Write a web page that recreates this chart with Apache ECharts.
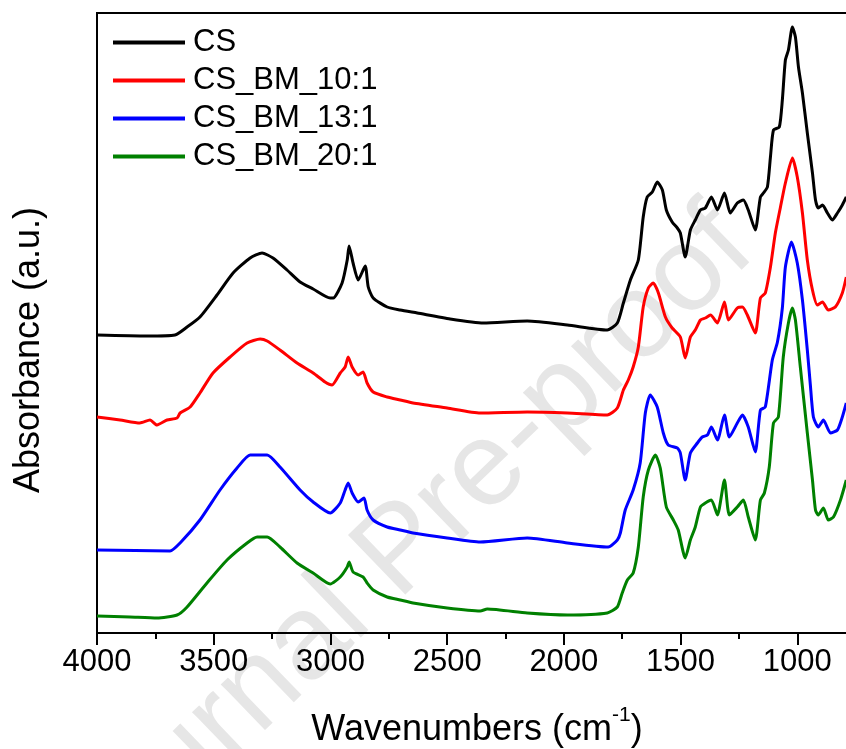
<!DOCTYPE html>
<html><head><meta charset="utf-8">
<script src="https://cdn.jsdelivr.net/npm/echarts@6/dist/echarts.min.js"></script>
<style>html,body{margin:0;padding:0;background:#fff}#c{width:846px;height:749px}</style>
</head><body><div id="c"></div>
<script>
// Series names
const seriesNames = ['CS', 'CS_BM_10:1', 'CS_BM_13:1', 'CS_BM_20:1'];
const seriesColors = ['#000000', '#ff0000', '#0000ff', '#008000'];
// x tick values (cm-1)
const xTicks = [4000, 3500, 3000, 2500, 2000, 1500, 1000];

// CS
const wnCS = [4000,3786,3666,3614,3559,3486,3417,3344,3293,3246,3186,3130,3074,3001,2988,2950,2928,2920,2903,2881,2851,2838,2817,2757,2701,2628,2487,2345,2157,1985,1814,1771,1745,1715,1681,1660,1643,1621,1600,1578,1561,1536,1514,1501,1480,1458,1437,1415,1394,1368,1342,1312,1287,1257,1231,1210,1180,1158,1145,1128,1115,1102,1077,1064,1051,1038,1021,1008,995,978,957,935,922,910,892,871,850,828,807,790];
const absCS = [2.98,2.97,2.98,3.06,3.16,3.38,3.60,3.75,3.80,3.75,3.63,3.51,3.44,3.35,3.35,3.50,3.73,3.87,3.70,3.53,3.67,3.46,3.35,3.26,3.23,3.20,3.14,3.10,3.12,3.08,3.03,3.10,3.30,3.53,3.73,4.16,4.36,4.41,4.51,4.43,4.23,4.11,4.05,4.00,3.76,4.03,4.13,4.23,4.25,4.36,4.23,4.40,4.20,4.30,4.33,4.23,4.03,4.36,4.40,4.46,4.76,5.03,5.06,5.33,5.73,5.83,6.06,5.96,5.66,5.40,5.00,4.60,4.33,4.25,4.28,4.20,4.13,4.20,4.28,4.36];

// CS_BM_10:1
const wn10 = [4000,3901,3816,3773,3743,3700,3657,3644,3601,3559,3503,3430,3357,3301,3271,3216,3143,3074,3023,2993,2958,2937,2924,2907,2881,2860,2843,2817,2757,2701,2646,2500,2358,2157,1985,1814,1771,1745,1724,1703,1681,1660,1638,1617,1595,1565,1536,1501,1480,1458,1437,1415,1394,1372,1342,1312,1295,1257,1235,1214,1180,1158,1137,1115,1094,1072,1051,1021,1000,978,957,935,914,892,867,837,807,790];
const abs10 = [2.16,2.13,2.10,2.13,2.08,2.13,2.15,2.20,2.26,2.40,2.60,2.76,2.90,2.94,2.92,2.83,2.70,2.60,2.51,2.48,2.60,2.66,2.76,2.66,2.58,2.61,2.50,2.41,2.36,2.33,2.30,2.25,2.20,2.21,2.20,2.18,2.25,2.43,2.53,2.66,2.86,3.26,3.45,3.50,3.40,3.16,3.05,2.96,2.75,2.96,3.03,3.13,3.15,3.18,3.10,3.31,3.13,3.25,3.26,3.18,3.00,3.35,3.40,3.66,4.00,4.26,4.50,4.75,4.56,4.20,3.73,3.43,3.28,3.31,3.23,3.26,3.40,3.56];

// CS_BM_13:1
const wn13 = [4000,3687,3644,3559,3473,3400,3344,3271,3216,3130,3074,3001,2958,2937,2924,2907,2881,2856,2843,2817,2757,2701,2646,2500,2358,2157,1985,1810,1771,1758,1737,1703,1673,1651,1630,1600,1574,1553,1514,1501,1480,1458,1428,1407,1385,1368,1342,1312,1291,1257,1235,1210,1180,1158,1137,1107,1085,1064,1051,1025,1000,978,957,944,931,910,888,858,828,807,790];
const abs13 = [0.83,0.82,0.90,1.13,1.43,1.65,1.78,1.78,1.66,1.43,1.31,1.20,1.30,1.43,1.50,1.40,1.31,1.35,1.23,1.13,1.06,1.03,1.00,0.95,0.91,0.95,0.90,0.86,0.93,1.00,1.23,1.43,1.70,2.20,2.38,2.26,2.00,1.88,1.85,1.80,1.53,1.80,1.90,1.96,1.98,2.06,1.93,2.18,1.96,2.10,2.18,2.06,1.81,2.23,2.26,2.73,2.91,3.25,3.66,3.91,3.70,3.33,2.83,2.48,2.16,2.06,2.13,2.00,2.03,2.16,2.30];

// CS_BM_20:1
const wn20 = [4000,3859,3743,3657,3614,3529,3443,3357,3314,3271,3216,3143,3074,3001,2958,2928,2920,2903,2860,2843,2817,2757,2701,2646,2500,2358,2328,2157,1985,1814,1771,1750,1728,1703,1681,1660,1638,1608,1587,1561,1531,1510,1480,1458,1437,1415,1394,1368,1342,1312,1291,1257,1231,1210,1180,1158,1141,1120,1102,1081,1060,1038,1021,1008,987,957,935,922,910,888,867,845,815,790];
const abs20 = [0.17,0.16,0.15,0.18,0.26,0.50,0.73,0.90,0.96,0.96,0.86,0.70,0.60,0.49,0.56,0.66,0.71,0.61,0.56,0.50,0.43,0.36,0.33,0.30,0.25,0.22,0.24,0.20,0.18,0.20,0.26,0.40,0.53,0.60,0.86,1.36,1.63,1.78,1.65,1.26,1.13,1.03,0.75,0.93,1.06,1.26,1.30,1.33,1.18,1.53,1.18,1.26,1.33,1.16,0.93,1.33,1.40,1.66,2.10,2.16,2.76,3.10,3.25,3.13,2.66,2.00,1.53,1.23,1.18,1.25,1.13,1.16,1.33,1.53];

const FONT = '"Liberation Sans", Arial, sans-serif';
const wnSets = [wnCS, wn10, wn13, wn20];
const absSets = [absCS, abs10, abs13, abs20];

const chart = echarts.init(document.getElementById('c'), null, {renderer: 'canvas'});
chart.setOption({
  animation: false,
  backgroundColor: '#fff',
  grid: {left: 97, top: 13, bottom: 116, right: -68, show: true, borderColor: '#000', borderWidth: 2,
         containLabel: false, outerBoundsMode: 'none'},
  legend: {
    orient: 'vertical', left: 113, top: 27, padding: 0,
    icon: 'rect', itemWidth: 72, itemHeight: 4, itemGap: 7,
    textStyle: {fontSize: 31, color: '#000', lineHeight: 31, fontFamily: FONT, padding: [0, 0, 0, 3]},
    data: seriesNames
  },
  xAxis: {
    type: 'value', inverse: true, min: 500, max: xTicks[0], interval: 500,
    axisLine: {show: true, onZero: false, lineStyle: {color: '#000', width: 2}},
    axisTick: {show: true, inside: false, length: 12, lineStyle: {color: '#000', width: 2}},
    minorTick: {show: true, splitNumber: 2, length: 6, lineStyle: {color: '#000', width: 2}},
    axisLabel: {fontSize: 31, color: '#000', margin: 14, fontFamily: FONT, hideOverlap: false,
      formatter: v => xTicks.indexOf(v) >= 0 ? String(v) : ''},
    splitLine: {show: false}
  },
  yAxis: {
    type: 'value', min: 0, max: 6.2,
    axisLine: {show: true, lineStyle: {color: '#000', width: 2}},
    axisTick: {show: false}, axisLabel: {show: false}, splitLine: {show: false}
  },
  graphic: [
    {type: 'text', x: 735, y: 230, rotation: 44 * Math.PI / 180, z: 0, silent: true,
     style: {text: 'Journal Pre-proof', fontSize: 120, fontFamily: FONT, fill: '#e6e6e6',
             align: 'right', verticalAlign: 'middle', textAlign: 'right', textVerticalAlign: 'middle'}},
    {type: 'text', x: 29, y: 350, rotation: Math.PI / 2, z: 10,
     style: {text: 'Absorbance (a.u.)', fontSize: 36, fontFamily: FONT, fill: '#000',
             align: 'center', verticalAlign: 'middle', textAlign: 'center', textVerticalAlign: 'middle'}},
    {type: 'text', x: 477, y: 730, z: 10,
     style: {text: '{a|Wavenumbers (cm}{b|-1}{a|)}',
             rich: {a: {fontSize: 36, lineHeight: 50, fontFamily: FONT, fill: '#000', color: '#000'},
                    b: {fontSize: 21, lineHeight: 24, fontFamily: FONT, fill: '#000', color: '#000', verticalAlign: 'top'}},
             align: 'center', verticalAlign: 'middle', textAlign: 'center', textVerticalAlign: 'middle'}}
  ],
  series: seriesNames.map((name, k) => ({
    name: name, type: 'line', symbol: 'none', showSymbol: false, z: 5,
    smooth: 0.2,
    lineStyle: {color: seriesColors[k], width: 3},
    itemStyle: {color: seriesColors[k]},
    data: wnSets[k].map((w, i) => [w, absSets[k][i]])
  }))
});
</script></body></html>
